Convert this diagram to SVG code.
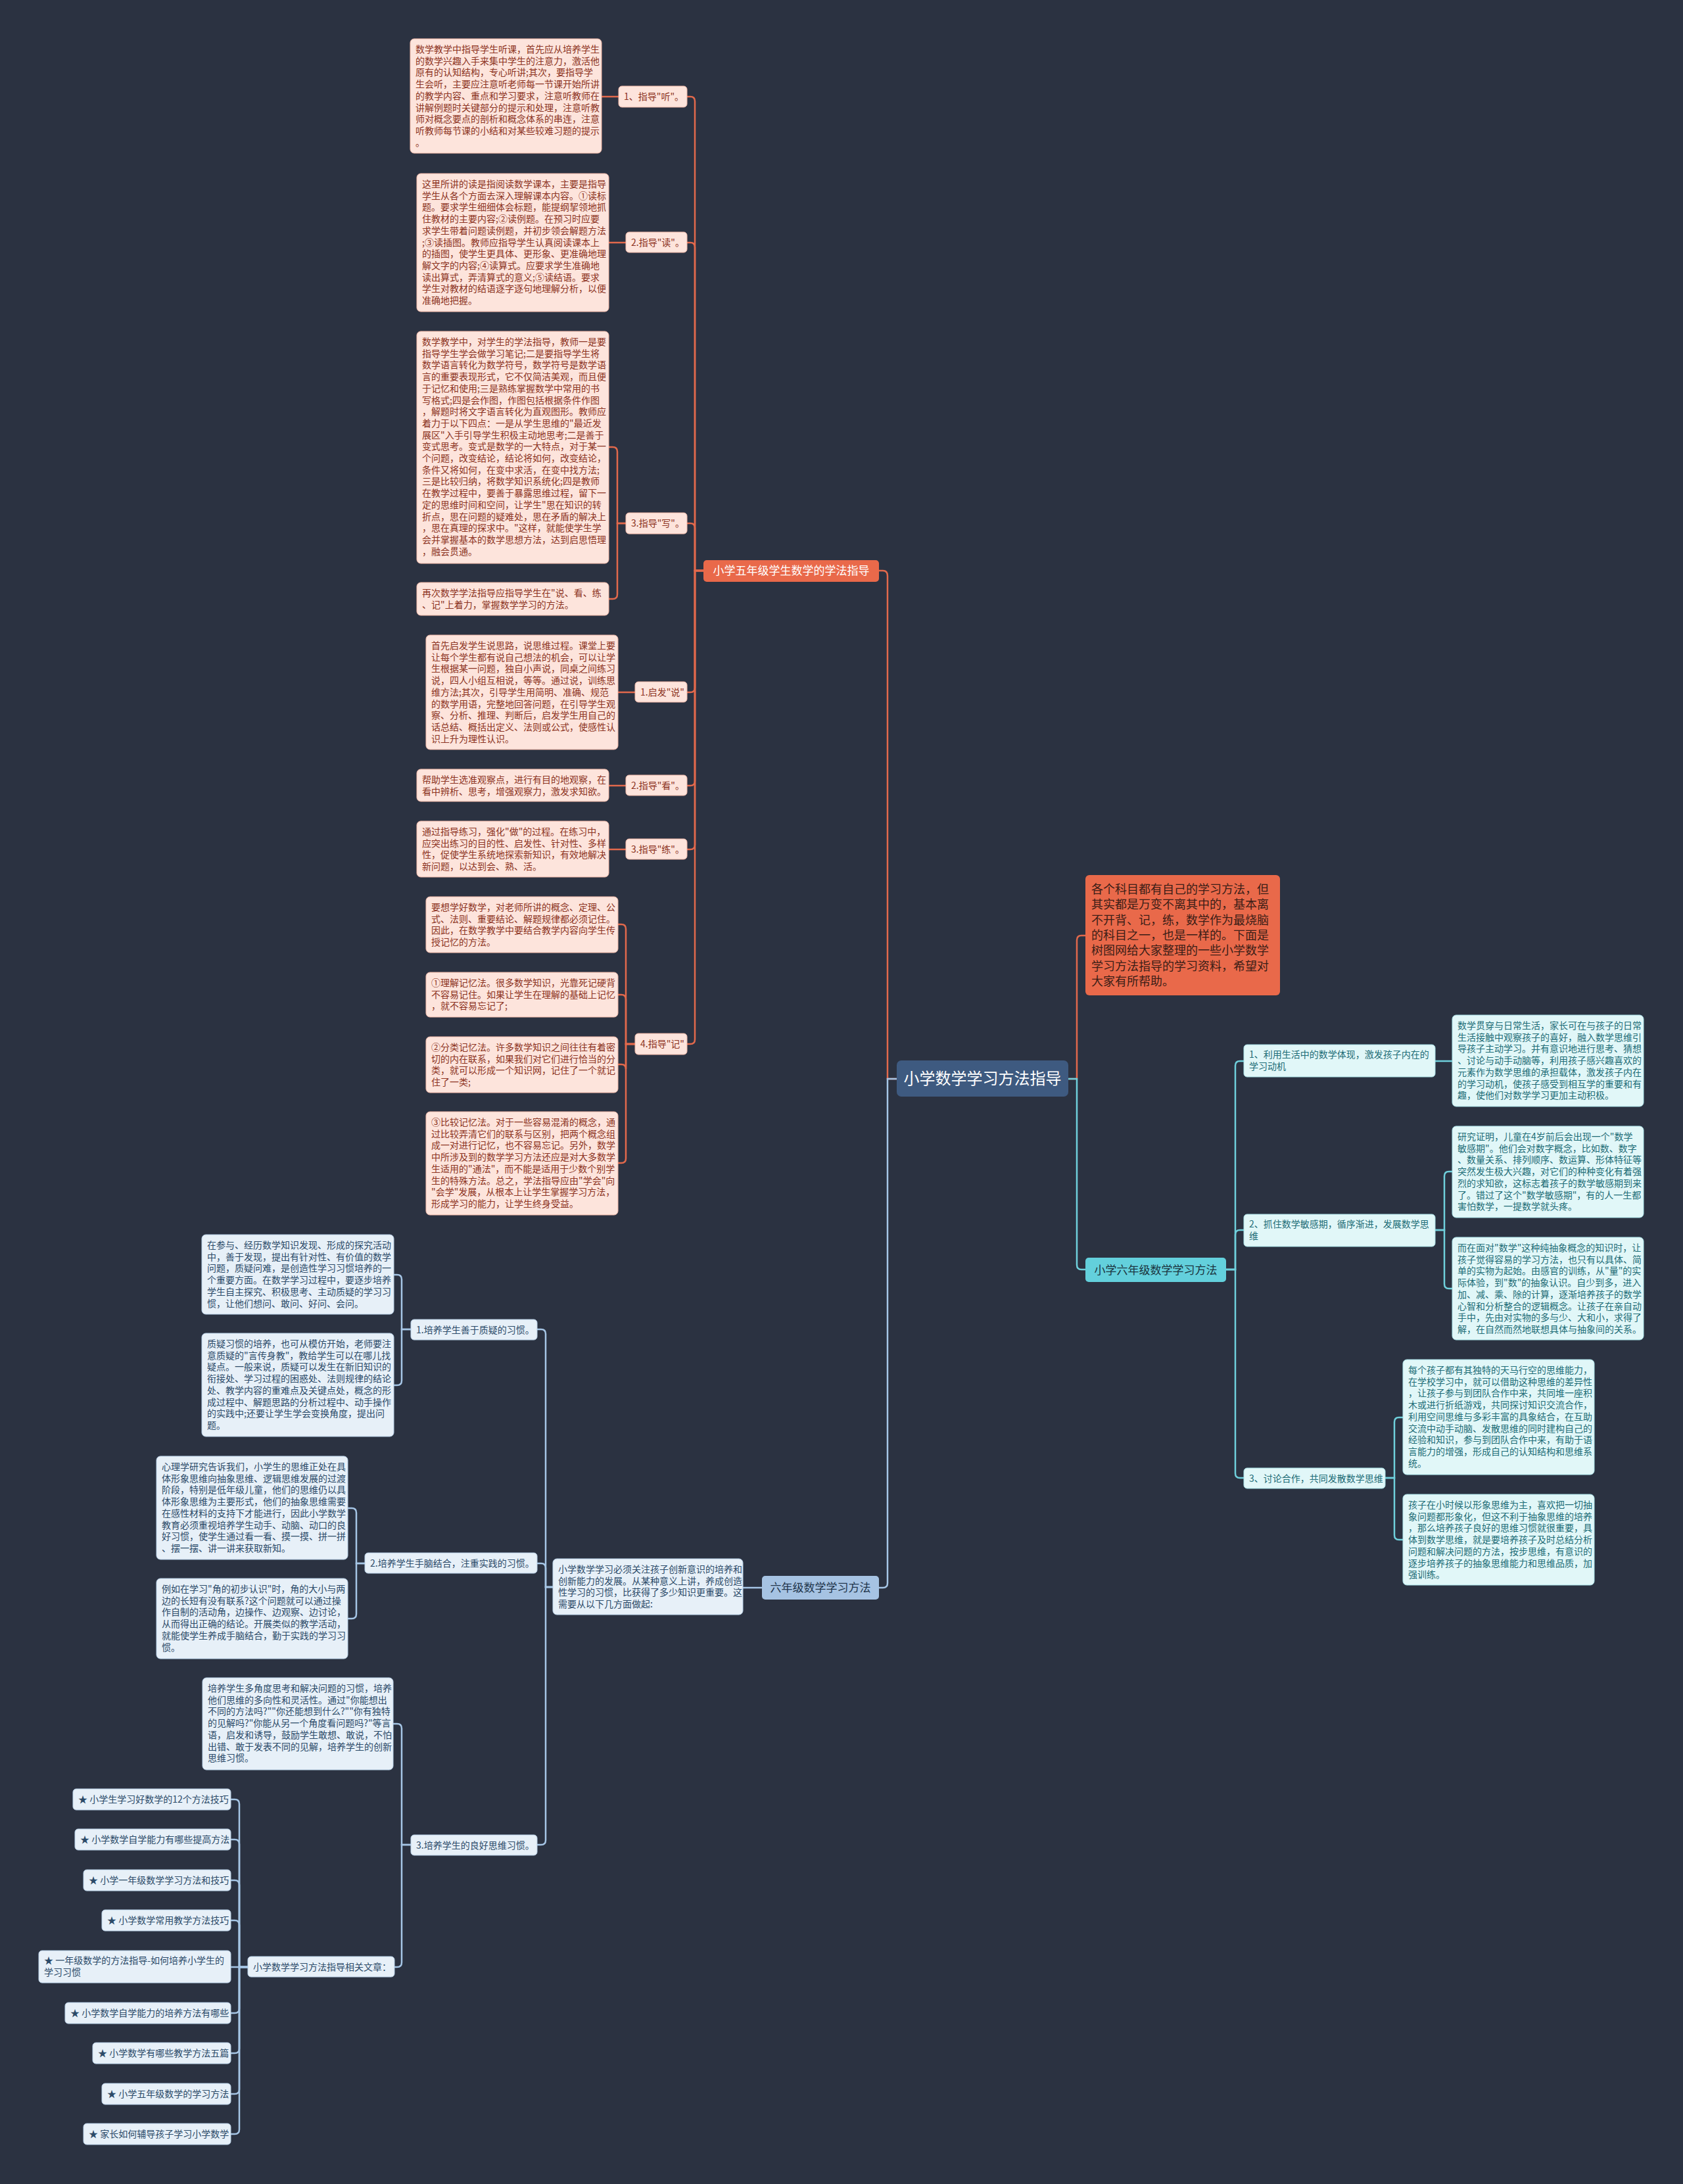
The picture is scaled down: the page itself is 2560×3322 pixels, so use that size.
<svg xmlns="http://www.w3.org/2000/svg" width="2560" height="3322" viewBox="0 0 2560 3322">
<style>
text{font-family:"Noto Sans CJK SC","Noto Sans",sans-serif;}
.co{fill:none;stroke:#e2694c;stroke-width:2.5}
.cc{fill:none;stroke:#6fd0dc;stroke-width:2.5}
.cb{fill:none;stroke:#a6c6e6;stroke-width:2.5}
.bo{fill:#fde4dc;stroke:#f2b9a9;stroke-width:1}
.to{fill:#8c3322;font-size:14px}
.bc{fill:#e1f7f8;stroke:#a9e2e8;stroke-width:1}
.tc{fill:#1d6c76;font-size:14px}
.bb{fill:#e7f0f8;stroke:#b9d1e8;stroke-width:1}
.tb{fill:#2b4a68;font-size:14px}
</style>
<rect x="0" y="0" width="2560" height="3322" fill="#2b3241"/>
<g id="connectors">
<path class="co" d="M1364,1641H1350V876Q1350,868 1343,868H1337"/>
<path class="cb" d="M1364,1641H1350V2408Q1350,2415 1343,2415H1337"/>
<path class="co" d="M1625,1641H1638V1430Q1638,1423 1645,1423H1651"/>
<path class="cc" d="M1625,1641H1638V1924Q1638,1931 1645,1931H1651"/>
<path class="co" d="M1070,868H1057V154Q1057,147 1050,147H1045"/>
<path class="co" d="M1070,868H1057V376Q1057,369 1050,369H1045"/>
<path class="co" d="M1070,868H1057V803Q1057,796 1050,796H1045"/>
<path class="co" d="M1070,868H1057V1046Q1057,1053 1050,1053H1045"/>
<path class="co" d="M1070,868H1057V1188Q1057,1195 1050,1195H1045"/>
<path class="co" d="M1070,868H1057V1285Q1057,1292 1050,1292H1045"/>
<path class="co" d="M1070,868H1057V1581Q1057,1588 1050,1588H1045"/>
<path class="co" d="M941,147H915"/>
<path class="co" d="M952,369H926"/>
<path class="co" d="M952,796H939V687Q939,680 932,680H926"/>
<path class="co" d="M952,796H939V904Q939,911 932,911H926"/>
<path class="co" d="M966,1053H940"/>
<path class="co" d="M952,1195H926"/>
<path class="co" d="M952,1292H926"/>
<path class="co" d="M966,1588H952V1413Q952,1406 945,1406H940"/>
<path class="co" d="M966,1588H952V1520Q952,1513 945,1513H940"/>
<path class="co" d="M966,1588H952V1626Q952,1619 945,1619H940"/>
<path class="co" d="M966,1588H952V1762Q952,1769 945,1769H940"/>
<path class="cc" d="M1865,1931H1879V1621Q1879,1614 1886,1614H1892"/>
<path class="cc" d="M1865,1931H1879V1878Q1879,1871 1886,1871H1892"/>
<path class="cc" d="M1865,1931H1879V2241Q1879,2248 1886,2248H1892"/>
<path class="cc" d="M2183,1614H2209"/>
<path class="cc" d="M2183,1871H2197V1789Q2197,1782 2204,1782H2209"/>
<path class="cc" d="M2183,1871H2197V1953Q2197,1960 2204,1960H2209"/>
<path class="cc" d="M2107,2248H2121V2163Q2121,2156 2128,2156H2134"/>
<path class="cc" d="M2107,2248H2121V2335Q2121,2342 2128,2342H2134"/>
<path class="cb" d="M1159,2415H1130"/>
<path class="cb" d="M841,2414H830V2029Q830,2022 823,2022H817"/>
<path class="cb" d="M841,2414H830V2385Q830,2378 823,2378H817"/>
<path class="cb" d="M841,2414H830V2799Q830,2806 823,2806H817"/>
<path class="cb" d="M625,2022H611V1946Q611,1939 604,1939H599"/>
<path class="cb" d="M625,2022H611V2100Q611,2107 604,2107H599"/>
<path class="cb" d="M555,2378H542V2301Q542,2294 535,2294H529"/>
<path class="cb" d="M555,2378H542V2455Q542,2462 535,2462H529"/>
<path class="cb" d="M625,2806H611V2629Q611,2622 604,2622H598"/>
<path class="cb" d="M625,2806H611V2985Q611,2992 604,2992H600"/>
<path class="cb" d="M377,2992H364V2744Q364,2737 357,2737H351"/>
<path class="cb" d="M377,2992H364V2805Q364,2798 357,2798H351"/>
<path class="cb" d="M377,2992H364V2867Q364,2860 357,2860H351"/>
<path class="cb" d="M377,2992H364V2928Q364,2921 357,2921H351"/>
<path class="cb" d="M377,2992H351"/>
<path class="cb" d="M377,2992H364V3055Q364,3062 357,3062H351"/>
<path class="cb" d="M377,2992H364V3116Q364,3123 357,3123H351"/>
<path class="cb" d="M377,2992H364V3178Q364,3185 357,3185H351"/>
<path class="cb" d="M377,2992H364V3239Q364,3246 357,3246H351"/>
</g>
<g id="root"><rect x="1364" y="1613" width="261" height="55" rx="7" fill="#3e5a80"/><text x="1494.5" y="1649" text-anchor="middle" font-size="24" fill="#ffffff">小学数学学习方法指导</text></g>
<g id="intro"><rect x="1651" y="1331" width="296" height="183" rx="6" fill="#e9694a"/><text x="1660" y="1359" font-size="18" fill="#3a1d16"><tspan x="1660">各个科目都有自己的学习方法，但</tspan><tspan x="1660" dy="23.3">其实都是万变不离其中的，基本离</tspan><tspan x="1660" dy="23.3">不开背、记，练，数学作为最烧脑</tspan><tspan x="1660" dy="23.3">的科目之一，也是一样的。下面是</tspan><tspan x="1660" dy="23.3">树图网给大家整理的一些小学数学</tspan><tspan x="1660" dy="23.3">学习方法指导的学习资料，希望对</tspan><tspan x="1660" dy="23.3">大家有所帮助。</tspan></text></g>
<g id="grade5"><rect x="1070" y="852" width="267" height="33" rx="5" fill="#e9694a"/><text x="1203.5" y="874" text-anchor="middle" font-size="17" fill="#ffffff">小学五年级学生数学的学法指导</text></g>
<g id="n-ting"><rect class="bo" x="941" y="131" width="104" height="32" rx="5"/><text class="to" x="949" y="152">1、指导"听"。</text></g>
<g id="t-ting"><rect class="bo" x="624" y="59" width="291" height="174" rx="6"/><text class="to" x="632" y="80"><tspan x="632">数学教学中指导学生听课，首先应从培养学生</tspan><tspan x="632" dy="17.7">的数学兴趣入手来集中学生的注意力，激活他</tspan><tspan x="632" dy="17.7">原有的认知结构，专心听讲;其次，要指导学</tspan><tspan x="632" dy="17.7">生会听，主要应注意听老师每一节课开始所讲</tspan><tspan x="632" dy="17.7">的教学内容、重点和学习要求，注意听教师在</tspan><tspan x="632" dy="17.7">讲解例题时关键部分的提示和处理，注意听教</tspan><tspan x="632" dy="17.7">师对概念要点的剖析和概念体系的串连，注意</tspan><tspan x="632" dy="17.7">听教师每节课的小结和对某些较难习题的提示</tspan><tspan x="632" dy="17.7">。</tspan></text></g>
<g id="n-du"><rect class="bo" x="952" y="353" width="93" height="31" rx="5"/><text class="to" x="960" y="374">2.指导"读"。</text></g>
<g id="t-du"><rect class="bo" x="634" y="264" width="292" height="210" rx="6"/><text class="to" x="642" y="285"><tspan x="642">这里所讲的读是指阅读数学课本，主要是指导</tspan><tspan x="642" dy="17.7">学生从各个方面去深入理解课本内容。①读标</tspan><tspan x="642" dy="17.7">题。要求学生细细体会标题，能提纲挈领地抓</tspan><tspan x="642" dy="17.7">住教材的主要内容;②读例题。在预习时应要</tspan><tspan x="642" dy="17.7">求学生带着问题读例题，并初步领会解题方法</tspan><tspan x="642" dy="17.7">;③读插图。教师应指导学生认真阅读课本上</tspan><tspan x="642" dy="17.7">的插图，使学生更具体、更形象、更准确地理</tspan><tspan x="642" dy="17.7">解文字的内容;④读算式。应要求学生准确地</tspan><tspan x="642" dy="17.7">读出算式，弄清算式的意义;⑤读结语。要求</tspan><tspan x="642" dy="17.7">学生对教材的结语逐字逐句地理解分析，以便</tspan><tspan x="642" dy="17.7">准确地把握。</tspan></text></g>
<g id="n-xie"><rect class="bo" x="952" y="780" width="93" height="32" rx="5"/><text class="to" x="960" y="801">3.指导"写"。</text></g>
<g id="t-xie"><rect class="bo" x="634" y="504" width="292" height="353" rx="6"/><text class="to" x="642" y="525"><tspan x="642">数学教学中，对学生的学法指导，教师一是要</tspan><tspan x="642" dy="17.7">指导学生学会做学习笔记;二是要指导学生将</tspan><tspan x="642" dy="17.7">数学语言转化为数学符号，数学符号是数学语</tspan><tspan x="642" dy="17.7">言的重要表现形式，它不仅简洁美观，而且便</tspan><tspan x="642" dy="17.7">于记忆和使用;三是熟练掌握数学中常用的书</tspan><tspan x="642" dy="17.7">写格式;四是会作图，作图包括根据条件作图</tspan><tspan x="642" dy="17.7">，解题时将文字语言转化为直观图形。教师应</tspan><tspan x="642" dy="17.7">着力于以下四点：一是从学生思维的"最近发</tspan><tspan x="642" dy="17.7">展区"入手引导学生积极主动地思考;二是善于</tspan><tspan x="642" dy="17.7">变式思考。变式是数学的一大特点，对于某一</tspan><tspan x="642" dy="17.7">个问题，改变结论，结论将如何，改变结论，</tspan><tspan x="642" dy="17.7">条件又将如何，在变中求活，在变中找方法;</tspan><tspan x="642" dy="17.7">三是比较归纳，将数学知识系统化;四是教师</tspan><tspan x="642" dy="17.7">在教学过程中，要善于暴露思维过程，留下一</tspan><tspan x="642" dy="17.7">定的思维时间和空间，让学生"思在知识的转</tspan><tspan x="642" dy="17.7">折点，思在问题的疑难处，思在矛盾的解决上</tspan><tspan x="642" dy="17.7">，思在真理的探求中。"这样，就能使学生学</tspan><tspan x="642" dy="17.7">会并掌握基本的数学思想方法，达到启思悟理</tspan><tspan x="642" dy="17.7">，融会贯通。</tspan></text></g>
<g id="t-zaici"><rect class="bo" x="634" y="886" width="292" height="50" rx="6"/><text class="to" x="642" y="907"><tspan x="642">再次数学学法指导应指导学生在"说、看、练</tspan><tspan x="642" dy="17.7">、记"上着力，掌握数学学习的方法。</tspan></text></g>
<g id="n-shuo"><rect class="bo" x="966" y="1037" width="79" height="31" rx="5"/><text class="to" x="974" y="1058">1.启发"说"</text></g>
<g id="t-shuo"><rect class="bo" x="648" y="966" width="292" height="174" rx="6"/><text class="to" x="656" y="987"><tspan x="656">首先启发学生说思路，说思维过程。课堂上要</tspan><tspan x="656" dy="17.7">让每个学生都有说自己想法的机会，可以让学</tspan><tspan x="656" dy="17.7">生根据某一问题，独自小声说，同桌之间练习</tspan><tspan x="656" dy="17.7">说，四人小组互相说，等等。通过说，训练思</tspan><tspan x="656" dy="17.7">维方法;其次，引导学生用简明、准确、规范</tspan><tspan x="656" dy="17.7">的数学用语，完整地回答问题，在引导学生观</tspan><tspan x="656" dy="17.7">察、分析、推理、判断后，启发学生用自己的</tspan><tspan x="656" dy="17.7">话总结、概括出定义、法则或公式，使感性认</tspan><tspan x="656" dy="17.7">识上升为理性认识。</tspan></text></g>
<g id="n-kan"><rect class="bo" x="952" y="1179" width="93" height="31" rx="5"/><text class="to" x="960" y="1200">2.指导"看"。</text></g>
<g id="t-kan"><rect class="bo" x="634" y="1170" width="292" height="49" rx="6"/><text class="to" x="642" y="1191"><tspan x="642">帮助学生选准观察点，进行有目的地观察，在</tspan><tspan x="642" dy="17.7">看中辨析、思考，增强观察力，激发求知欲。</tspan></text></g>
<g id="n-lian"><rect class="bo" x="952" y="1276" width="93" height="31" rx="5"/><text class="to" x="960" y="1297">3.指导"练"。</text></g>
<g id="t-lian"><rect class="bo" x="634" y="1249" width="292" height="85" rx="6"/><text class="to" x="642" y="1270"><tspan x="642">通过指导练习，强化"做"的过程。在练习中，</tspan><tspan x="642" dy="17.7">应突出练习的目的性、启发性、针对性、多样</tspan><tspan x="642" dy="17.7">性，促使学生系统地探索新知识，有效地解决</tspan><tspan x="642" dy="17.7">新问题，以达到会、熟、活。</tspan></text></g>
<g id="n-ji"><rect class="bo" x="966" y="1572" width="79" height="32" rx="5"/><text class="to" x="974" y="1593">4.指导"记"</text></g>
<g id="t-ji0"><rect class="bo" x="648" y="1364" width="292" height="85" rx="6"/><text class="to" x="656" y="1385"><tspan x="656">要想学好数学，对老师所讲的概念、定理、公</tspan><tspan x="656" dy="17.7">式、法则、重要结论、解题规律都必须记住。</tspan><tspan x="656" dy="17.7">因此，在数学教学中要结合教学内容向学生传</tspan><tspan x="656" dy="17.7">授记忆的方法。</tspan></text></g>
<g id="t-ji1"><rect class="bo" x="648" y="1479" width="292" height="68" rx="6"/><text class="to" x="656" y="1500"><tspan x="656">①理解记忆法。很多数学知识，光靠死记硬背</tspan><tspan x="656" dy="17.7">不容易记住。如果让学生在理解的基础上记忆</tspan><tspan x="656" dy="17.7">，就不容易忘记了;</tspan></text></g>
<g id="t-ji2"><rect class="bo" x="648" y="1577" width="292" height="85" rx="6"/><text class="to" x="656" y="1598"><tspan x="656">②分类记忆法。许多数学知识之间往往有着密</tspan><tspan x="656" dy="17.7">切的内在联系，如果我们对它们进行恰当的分</tspan><tspan x="656" dy="17.7">类，就可以形成一个知识网，记住了一个就记</tspan><tspan x="656" dy="17.7">住了一类;</tspan></text></g>
<g id="t-ji3"><rect class="bo" x="648" y="1691" width="292" height="157" rx="6"/><text class="to" x="656" y="1712"><tspan x="656">③比较记忆法。对于一些容易混淆的概念，通</tspan><tspan x="656" dy="17.7">过比较弄清它们的联系与区别，把两个概念组</tspan><tspan x="656" dy="17.7">成一对进行记忆，也不容易忘记。另外，数学</tspan><tspan x="656" dy="17.7">中所涉及到的数学学习方法还应是对大多数学</tspan><tspan x="656" dy="17.7">生适用的"通法"，而不能是适用于少数个别学</tspan><tspan x="656" dy="17.7">生的特殊方法。总之，学法指导应由"学会"向</tspan><tspan x="656" dy="17.7">"会学"发展，从根本上让学生掌握学习方法，</tspan><tspan x="656" dy="17.7">形成学习的能力，让学生终身受益。</tspan></text></g>
<g id="grade6-right"><rect x="1651" y="1913" width="214" height="37" rx="5" fill="#63d0dc"/><text x="1758" y="1937.5" text-anchor="middle" font-size="17" fill="#1b3540">小学六年级数学学习方法</text></g>
<g id="n-r1"><rect class="bc" x="1892" y="1589" width="291" height="49" rx="5"/><text class="tc" x="1900" y="1609"><tspan x="1900">1、利用生活中的数学体现，激发孩子内在的</tspan><tspan x="1900" dy="17.7">学习动机</tspan></text></g>
<g id="t-r1"><rect class="bc" x="2209" y="1544" width="291" height="139" rx="6"/><text class="tc" x="2217" y="1565"><tspan x="2217">数学贯穿与日常生活，家长可在与孩子的日常</tspan><tspan x="2217" dy="17.7">生活接触中观察孩子的喜好，融入数学思维引</tspan><tspan x="2217" dy="17.7">导孩子主动学习。并有意识地进行思考、猜想</tspan><tspan x="2217" dy="17.7">、讨论与动手动脑等，利用孩子感兴趣喜欢的</tspan><tspan x="2217" dy="17.7">元素作为数学思维的承担载体，激发孩子内在</tspan><tspan x="2217" dy="17.7">的学习动机，使孩子感受到相互学的重要和有</tspan><tspan x="2217" dy="17.7">趣，使他们对数学学习更加主动积极。</tspan></text></g>
<g id="n-r2"><rect class="bc" x="1892" y="1847" width="291" height="49" rx="5"/><text class="tc" x="1900" y="1867"><tspan x="1900">2、抓住数学敏感期，循序渐进，发展数学思</tspan><tspan x="1900" dy="17.7">维</tspan></text></g>
<g id="t-r2a"><rect class="bc" x="2209" y="1713" width="291" height="139" rx="6"/><text class="tc" x="2217" y="1734"><tspan x="2217">研究证明，儿童在4岁前后会出现一个"数学</tspan><tspan x="2217" dy="17.7">敏感期"。他们会对数字概念，比如数、数字</tspan><tspan x="2217" dy="17.7">、数量关系、排列顺序、数运算、形体特征等</tspan><tspan x="2217" dy="17.7">突然发生极大兴趣，对它们的种种变化有着强</tspan><tspan x="2217" dy="17.7">烈的求知欲，这标志着孩子的数学敏感期到来</tspan><tspan x="2217" dy="17.7">了。错过了这个"数学敏感期"，有的人一生都</tspan><tspan x="2217" dy="17.7">害怕数学，一提数学就头疼。</tspan></text></g>
<g id="t-r2b"><rect class="bc" x="2209" y="1882" width="291" height="156" rx="6"/><text class="tc" x="2217" y="1903"><tspan x="2217">而在面对"数学"这种纯抽象概念的知识时，让</tspan><tspan x="2217" dy="17.7">孩子觉得容易的学习方法，也只有以具体、简</tspan><tspan x="2217" dy="17.7">单的实物为起始。由感官的训练，从"量"的实</tspan><tspan x="2217" dy="17.7">际体验，到"数"的抽象认识。自少到多，进入</tspan><tspan x="2217" dy="17.7">加、减、乘、除的计算，逐渐培养孩子的数学</tspan><tspan x="2217" dy="17.7">心智和分析整合的逻辑概念。让孩子在亲自动</tspan><tspan x="2217" dy="17.7">手中，先由对实物的多与少、大和小，求得了</tspan><tspan x="2217" dy="17.7">解，在自然而然地联想具体与抽象间的关系。</tspan></text></g>
<g id="n-r3"><rect class="bc" x="1892" y="2233" width="215" height="31" rx="5"/><text class="tc" x="1900" y="2254">3、讨论合作，共同发散数学思维</text></g>
<g id="t-r3a"><rect class="bc" x="2134" y="2068" width="291" height="175" rx="6"/><text class="tc" x="2142" y="2089"><tspan x="2142">每个孩子都有其独特的天马行空的思维能力，</tspan><tspan x="2142" dy="17.7">在学校学习中，就可以借助这种思维的差异性</tspan><tspan x="2142" dy="17.7">，让孩子参与到团队合作中来，共同堆一座积</tspan><tspan x="2142" dy="17.7">木或进行折纸游戏，共同探讨知识交流合作，</tspan><tspan x="2142" dy="17.7">利用空间思维与多彩丰富的具象结合，在互助</tspan><tspan x="2142" dy="17.7">交流中动手动脑、发散思维的同时建构自己的</tspan><tspan x="2142" dy="17.7">经验和知识，参与到团队合作中来，有助于语</tspan><tspan x="2142" dy="17.7">言能力的增强，形成自己的认知结构和思维系</tspan><tspan x="2142" dy="17.7">统。</tspan></text></g>
<g id="t-r3b"><rect class="bc" x="2134" y="2273" width="291" height="138" rx="6"/><text class="tc" x="2142" y="2294"><tspan x="2142">孩子在小时候以形象思维为主，喜欢把一切抽</tspan><tspan x="2142" dy="17.7">象问题都形象化，但这不利于抽象思维的培养</tspan><tspan x="2142" dy="17.7">，那么培养孩子良好的思维习惯就很重要，具</tspan><tspan x="2142" dy="17.7">体到数学思维，就是要培养孩子及时总结分析</tspan><tspan x="2142" dy="17.7">问题和解决问题的方法，按步思维，有意识的</tspan><tspan x="2142" dy="17.7">逐步培养孩子的抽象思维能力和思维品质，加</tspan><tspan x="2142" dy="17.7">强训练。</tspan></text></g>
<g id="grade6-left"><rect x="1159" y="2397" width="178" height="36" rx="5" fill="#a6c3e3"/><text x="1248" y="2421" text-anchor="middle" font-size="17" fill="#22364c">六年级数学学习方法</text></g>
<g id="t-mid"><rect class="bb" x="841" y="2371" width="289" height="85" rx="6"/><text class="tb" x="849" y="2392"><tspan x="849">小学数学学习必须关注孩子创新意识的培养和</tspan><tspan x="849" dy="17.7">创新能力的发展。从某种意义上讲，养成创造</tspan><tspan x="849" dy="17.7">性学习的习惯，比获得了多少知识更重要。这</tspan><tspan x="849" dy="17.7">需要从以下几方面做起:</tspan></text></g>
<g id="n-l1"><rect class="bb" x="625" y="2007" width="192" height="31" rx="5"/><text class="tb" x="633" y="2028">1.培养学生善于质疑的习惯。</text></g>
<g id="t-l1a"><rect class="bb" x="307" y="1878" width="292" height="121" rx="6"/><text class="tb" x="315" y="1899"><tspan x="315">在参与、经历数学知识发现、形成的探究活动</tspan><tspan x="315" dy="17.7">中，善于发现，提出有针对性、有价值的数学</tspan><tspan x="315" dy="17.7">问题，质疑问难，是创造性学习习惯培养的一</tspan><tspan x="315" dy="17.7">个重要方面。在数学学习过程中，要逐步培养</tspan><tspan x="315" dy="17.7">学生自主探究、积极思考、主动质疑的学习习</tspan><tspan x="315" dy="17.7">惯，让他们想问、敢问、好问、会问。</tspan></text></g>
<g id="t-l1b"><rect class="bb" x="307" y="2028" width="292" height="157" rx="6"/><text class="tb" x="315" y="2049"><tspan x="315">质疑习惯的培养，也可从模仿开始，老师要注</tspan><tspan x="315" dy="17.7">意质疑的"言传身教"，教给学生可以在哪儿找</tspan><tspan x="315" dy="17.7">疑点。一般来说，质疑可以发生在新旧知识的</tspan><tspan x="315" dy="17.7">衔接处、学习过程的困惑处、法则规律的结论</tspan><tspan x="315" dy="17.7">处、教学内容的重难点及关键点处，概念的形</tspan><tspan x="315" dy="17.7">成过程中、解题思路的分析过程中、动手操作</tspan><tspan x="315" dy="17.7">的实践中;还要让学生学会变换角度，提出问</tspan><tspan x="315" dy="17.7">题。</tspan></text></g>
<g id="n-l2"><rect class="bb" x="555" y="2362" width="262" height="31" rx="5"/><text class="tb" x="563" y="2383">2.培养学生手脑结合，注重实践的习惯。</text></g>
<g id="t-l2a"><rect class="bb" x="238" y="2215" width="291" height="157" rx="6"/><text class="tb" x="246" y="2236"><tspan x="246">心理学研究告诉我们，小学生的思维正处在具</tspan><tspan x="246" dy="17.7">体形象思维向抽象思维、逻辑思维发展的过渡</tspan><tspan x="246" dy="17.7">阶段，特别是低年级儿童，他们的思维仍以具</tspan><tspan x="246" dy="17.7">体形象思维为主要形式，他们的抽象思维需要</tspan><tspan x="246" dy="17.7">在感性材料的支持下才能进行，因此小学数学</tspan><tspan x="246" dy="17.7">教育必须重视培养学生动手、动脑、动口的良</tspan><tspan x="246" dy="17.7">好习惯，使学生通过看一看、摸一摸、拼一拼</tspan><tspan x="246" dy="17.7">、摆一摆、讲一讲来获取新知。</tspan></text></g>
<g id="t-l2b"><rect class="bb" x="238" y="2401" width="291" height="122" rx="6"/><text class="tb" x="246" y="2422"><tspan x="246">例如在学习"角的初步认识"时，角的大小与两</tspan><tspan x="246" dy="17.7">边的长短有没有联系?这个问题就可以通过操</tspan><tspan x="246" dy="17.7">作自制的活动角，边操作、边观察、边讨论，</tspan><tspan x="246" dy="17.7">从而得出正确的结论。开展类似的教学活动，</tspan><tspan x="246" dy="17.7">就能使学生养成手脑结合，勤于实践的学习习</tspan><tspan x="246" dy="17.7">惯。</tspan></text></g>
<g id="n-l3"><rect class="bb" x="625" y="2791" width="192" height="31" rx="5"/><text class="tb" x="633" y="2812">3.培养学生的良好思维习惯。</text></g>
<g id="t-l3a"><rect class="bb" x="308" y="2552" width="290" height="140" rx="6"/><text class="tb" x="316" y="2573"><tspan x="316">培养学生多角度思考和解决问题的习惯，培养</tspan><tspan x="316" dy="17.7">他们思维的多向性和灵活性。通过"你能想出</tspan><tspan x="316" dy="17.7">不同的方法吗?""你还能想到什么?""你有独特</tspan><tspan x="316" dy="17.7">的见解吗?"你能从另一个角度看问题吗?"等言</tspan><tspan x="316" dy="17.7">语，启发和诱导，鼓励学生敢想、敢说，不怕</tspan><tspan x="316" dy="17.7">出错、敢于发表不同的见解，培养学生的创新</tspan><tspan x="316" dy="17.7">思维习惯。</tspan></text></g>
<g id="n-rel"><rect class="bb" x="377" y="2976" width="223" height="31" rx="5"/><text class="tb" x="385" y="2997">小学数学学习方法指导相关文章：</text></g>
<g id="i1"><rect class="bb" x="111" y="2721" width="240" height="32" rx="5"/><text class="tb" x="119" y="2742">★ 小学生学习好数学的12个方法技巧</text></g>
<g id="i2"><rect class="bb" x="114" y="2782" width="237" height="32" rx="5"/><text class="tb" x="122" y="2803">★ 小学数学自学能力有哪些提高方法</text></g>
<g id="i3"><rect class="bb" x="127" y="2844" width="224" height="32" rx="5"/><text class="tb" x="135" y="2865">★ 小学一年级数学学习方法和技巧</text></g>
<g id="i4"><rect class="bb" x="155" y="2905" width="196" height="32" rx="5"/><text class="tb" x="163" y="2926">★ 小学数学常用教学方法技巧</text></g>
<g id="i5"><rect class="bb" x="59" y="2967" width="292" height="49" rx="5"/><text class="tb" x="67" y="2987"><tspan x="67">★ 一年级数学的方法指导-如何培养小学生的</tspan><tspan x="67" dy="17.7">学习习惯</tspan></text></g>
<g id="i6"><rect class="bb" x="99" y="3046" width="252" height="32" rx="5"/><text class="tb" x="107" y="3067">★ 小学数学自学能力的培养方法有哪些</text></g>
<g id="i7"><rect class="bb" x="141" y="3107" width="210" height="32" rx="5"/><text class="tb" x="149" y="3128">★ 小学数学有哪些教学方法五篇</text></g>
<g id="i8"><rect class="bb" x="155" y="3169" width="196" height="32" rx="5"/><text class="tb" x="163" y="3190">★ 小学五年级数学的学习方法</text></g>
<g id="i9"><rect class="bb" x="127" y="3230" width="224" height="32" rx="5"/><text class="tb" x="135" y="3251">★ 家长如何辅导孩子学习小学数学</text></g>
</svg>
